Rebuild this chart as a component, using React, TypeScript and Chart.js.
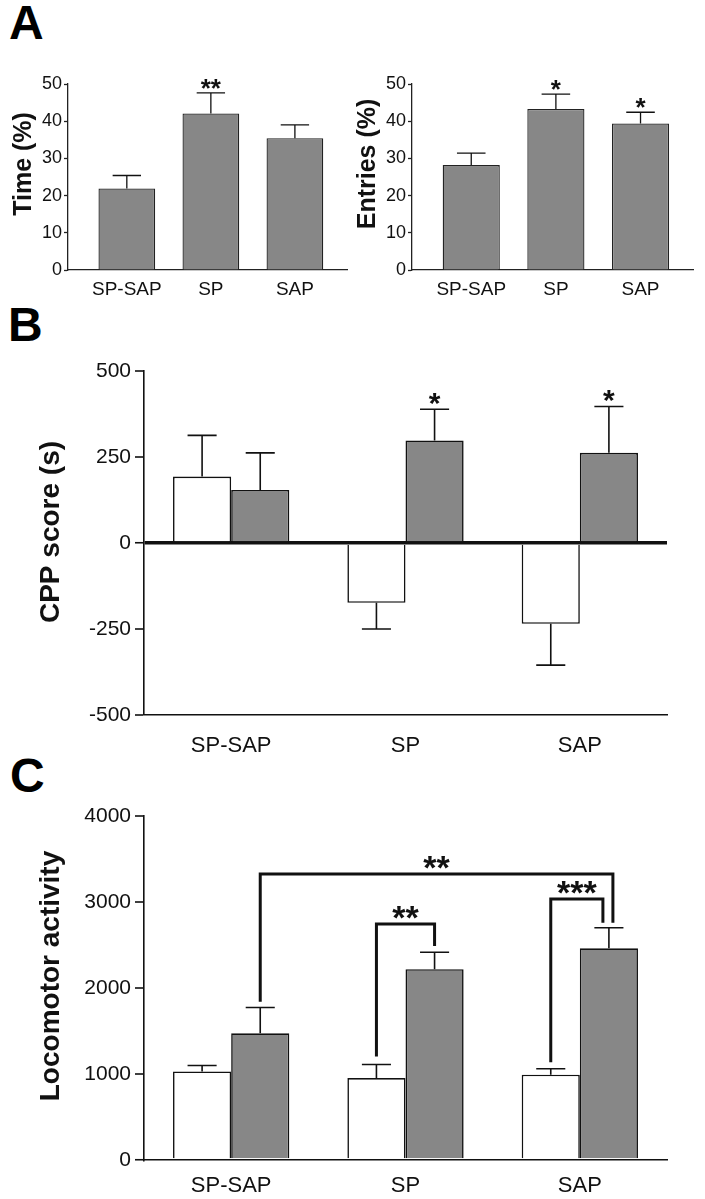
import React, { useEffect, useRef } from "react";
import { Chart, registerables } from "chart.js";

Chart.register(...registerables);

// ---------- data ----------
const groups = ["SP-SAP", "SP", "SAP"];

const timeMean = [21.9, 42.1, 35.4];
const timeErr = [25.4, 47.6, 39.0];
const timeStars = ["", "**", ""];

const entriesMean = [28.2, 43.3, 39.4];
const entriesErr = [31.4, 47.3, 42.4];
const entriesStars = ["", "*", "*"];

const cppWhite = [193, -174, -235];
const cppWhiteErr = [313, -250, -355];
const cppGray = [154, 298, 262];
const cppGrayErr = [262, 389, 397];
const cppGrayStars = ["", "*", "*"];

const locoWhite = [1030, 953, 991];
const locoWhiteErr = [1099, 1111, 1061];
const locoGray = [1473, 2218, 2461];
const locoGrayErr = [1774, 2415, 2700];

// brackets in panel C: [group, series] endpoints, level and leg ends (data units)
const bracketFrom = [[0, 1], [1, 0], [2, 0]];
const bracketTo = [[2, 1], [1, 1], [2, 1]];
const bracketLevel = [3326, 2744, 3035];
const bracketLeftEnd = [1840, 1203, 1138];
const bracketRightEnd = [2760, 2488, 2760];
const bracketLabels = ["**", "**", "***"];

// ---------- styles ----------
const FONT = "'Liberation Sans', Arial, Helvetica, sans-serif";
const GRAY = "#878787";
const INK = "#111111";
const AXIS = "#222222";

const annotPlugin = {
  id: "annot",
  afterDatasetsDraw(chart: any, _args: any, opts: any) {
    const ctx = chart.ctx;
    const ys = chart.scales.y;
    ctx.save();
    chart.data.datasets.forEach((ds: any, di: number) => {
      if (!ds.errors) return;
      const meta = chart.getDatasetMeta(di);
      meta.data.forEach((el: any, j: number) => {
        const p = el.getProps(["x", "y", "width"], true);
        const ey = ys.getPixelForValue(ds.errors[j]);
        ctx.strokeStyle = INK;
        ctx.lineWidth = opts.lineWidth;
        ctx.lineCap = "butt";
        ctx.beginPath();
        ctx.moveTo(p.x, p.y);
        ctx.lineTo(p.x, ey);
        const half = (p.width * opts.capFrac) / 2;
        ctx.moveTo(p.x - half, ey);
        ctx.lineTo(p.x + half, ey);
        ctx.stroke();
        const s = ds.stars && ds.stars[j];
        if (s) {
          const cy = ey - opts.starGap;
          ctx.font = `bold ${opts.starSize}px ${FONT}`;
          ctx.textAlign = "center";
          ctx.textBaseline = "alphabetic";
          ctx.fillStyle = INK;
          ctx.fillText(s, p.x, cy + opts.starSize * 0.58);
        }
      });
    });
    (opts.brackets || []).forEach((b: any) => {
      const a = chart.getDatasetMeta(b.from[1]).data[b.from[0]];
      const c = chart.getDatasetMeta(b.to[1]).data[b.to[0]];
      const xa = a.x + b.dxFrom;
      const xc = c.x + b.dxTo;
      const yl = ys.getPixelForValue(b.level);
      const ya = ys.getPixelForValue(b.leftEnd);
      const yc = ys.getPixelForValue(b.rightEnd);
      ctx.strokeStyle = INK;
      ctx.lineWidth = opts.bracketWidth;
      ctx.lineJoin = "miter";
      ctx.beginPath();
      ctx.moveTo(xa, ya);
      ctx.lineTo(xa, yl);
      ctx.lineTo(xc, yl);
      ctx.lineTo(xc, yc);
      ctx.stroke();
      ctx.font = `bold ${opts.bracketStarSize}px ${FONT}`;
      ctx.textAlign = "center";
      ctx.textBaseline = "alphabetic";
      ctx.fillStyle = INK;
      ctx.fillText(b.label, (xa + xc) / 2, yl - opts.bracketGap + opts.bracketStarSize * 0.58);
    });
    ctx.restore();
  },
  afterDraw(chart: any, _args: any, opts: any) {
    const t = opts.yTitle;
    if (!t) return;
    const ctx = chart.ctx;
    const area = chart.chartArea;
    ctx.save();
    ctx.translate(t.x, (area.top + area.bottom) / 2 + t.dy);
    ctx.rotate(-Math.PI / 2);
    ctx.font = `bold ${t.size}px ${FONT}`;
    ctx.textAlign = "center";
    ctx.textBaseline = "middle";
    ctx.fillStyle = INK;
    ctx.fillText(t.text, 0, 0);
    ctx.restore();
  },
};

function makeA(values: number[], errs: number[], stars: string[], title: string, yWidth: number, titleX: number, padRight: number) {
  return {
    type: "bar",
    data: {
      datasets: [
        {
          data: values.map((v, i) => ({ x: i, y: v })),
          errors: errs,
          stars,
          backgroundColor: GRAY,
          borderColor: AXIS,
          borderWidth: 1.3,
          barPercentage: 0.675,
          categoryPercentage: 1,
        },
      ],
    },
    options: {
      animation: false,
      responsive: false,
      layout: { padding: { top: 44, right: padRight, left: 0, bottom: 0 } },
      plugins: {
        legend: { display: false },
        tooltip: { enabled: false },
        annot: {
          lineWidth: 1.3,
          capFrac: 0.5,
          starGap: 11,
          starSize: 26,
          yTitle: { text: title, size: 25, x: titleX, dy: -13 },
        },
      },
      scales: {
        x: {
          type: "linear",
          offset: false,
          min: -0.7,
          max: 2.62,
          grid: { display: false, drawTicks: false, offset: false },
          border: { display: true, color: AXIS, width: 1.3 },
          afterBuildTicks: (s: any) => {
            s.ticks = groups.map((_, i) => ({ value: i }));
          },
          ticks: {
            callback: (v: any) => groups[v],
            font: { family: FONT, size: 19 },
            color: INK,
            padding: 8,
            autoSkip: false,
            maxRotation: 0,
          },
          afterFit: (s: any) => {
            s.height = 40;
          },
        },
        y: {
          min: 0,
          max: 50,
          ticks: { stepSize: 10, font: { family: FONT, size: 18 }, color: INK, padding: 2 },
          grid: { drawOnChartArea: false, tickLength: 4, tickWidth: 1.3, tickColor: AXIS },
          border: { display: true, color: AXIS, width: 1.3 },
          title: { display: false, text: title },
          afterFit: (s: any) => {
            s.width = yWidth;
          },
        },
      },
    },
  };
}

function makeBC(
  white: number[], whiteErr: number[], gray: number[], grayErr: number[], grayStars: string[],
  title: string, min: number, max: number, step: number, zeroLine: boolean, labelPad: number,
  xHeight: number, brackets: any[], titleDy: number
) {
  return {
    type: "bar",
    data: {
      labels: groups,
      datasets: [
        {
          data: white,
          errors: whiteErr,
          backgroundColor: "#ffffff",
          borderColor: INK,
          borderWidth: 1.6,
          barPercentage: 1,
          categoryPercentage: 0.667,
        },
        {
          data: gray,
          errors: grayErr,
          stars: grayStars,
          backgroundColor: GRAY,
          borderColor: INK,
          borderWidth: 1.6,
          barPercentage: 1,
          categoryPercentage: 0.667,
        },
      ],
    },
    options: {
      animation: false,
      responsive: false,
      layout: { padding: { top: 21, right: 38, left: 0, bottom: 0 } },
      plugins: {
        legend: { display: false },
        tooltip: { enabled: false },
        annot: {
          lineWidth: 1.6,
          capFrac: 0.5,
          starGap: 14,
          starSize: 30,
          brackets,
          bracketWidth: 3,
          bracketGap: 15,
          bracketStarSize: 34,
          yTitle: { text: title, size: 28, x: 51, dy: titleDy },
        },
      },
      scales: {
        x: {
          grid: { display: false, drawTicks: false },
          border: { display: true, color: INK, width: 1.6 },
          ticks: { font: { family: FONT, size: 22 }, color: INK, padding: labelPad, maxRotation: 0 },
          afterFit: (s: any) => {
            s.height = xHeight;
          },
        },
        y: {
          min,
          max,
          z: 1,
          ticks: {
            stepSize: step,
            font: { family: FONT, size: 21 },
            color: INK,
            padding: 4,
            callback: (v: any) => String(v),
          },
          grid: {
            drawOnChartArea: zeroLine,
            color: (c: any) => (c.tick && c.tick.value === 0 ? INK : "rgba(0,0,0,0)"),
            lineWidth: (c: any) => (c.tick && c.tick.value === 0 ? 3.5 : 0),
            tickLength: 9,
            tickWidth: 1.6,
            tickColor: INK,
          },
          border: { display: true, color: INK, width: 1.6 },
          title: { display: false, text: title },
          afterFit: (s: any) => {
            s.width = 144;
          },
        },
      },
    },
  };
}

const bracketDx = [[0, 4], [0, 0], [0, -6]];

export default function App() {
  const aL = useRef<HTMLCanvasElement>(null);
  const aR = useRef<HTMLCanvasElement>(null);
  const b = useRef<HTMLCanvasElement>(null);
  const c = useRef<HTMLCanvasElement>(null);

  useEffect(() => {
    const charts: Chart[] = [];
    const brackets = bracketLabels.map((label, i) => ({
      from: bracketFrom[i],
      to: bracketTo[i],
      level: bracketLevel[i],
      leftEnd: bracketLeftEnd[i],
      rightEnd: bracketRightEnd[i],
      label,
      dxFrom: bracketDx[i][0],
      dxTo: bracketDx[i][1],
    }));
    charts.push(
      new Chart(aL.current as any, { ...(makeA(timeMean, timeErr, timeStars, "Time (%)", 68, 24, 8) as any), plugins: [annotPlugin] })
    );
    charts.push(
      new Chart(aR.current as any, { ...(makeA(entriesMean, entriesErr, entriesStars, "Entries (%)", 62, 18, 12) as any), plugins: [annotPlugin] })
    );
    charts.push(
      new Chart(b.current as any, {
        ...(makeBC(cppWhite, cppWhiteErr, cppGray, cppGrayErr, cppGrayStars, "CPP score (s)", -500, 500, 250, true, 18, 45, [], -11) as any),
        plugins: [annotPlugin],
      })
    );
    charts.push(
      new Chart(c.current as any, {
        ...(makeBC(locoWhite, locoWhiteErr, locoGray, locoGrayErr, ["", "", ""], "Locomotor activity", 0, 4000, 1000, false, 13, 39, brackets, -12) as any),
        plugins: [annotPlugin],
      })
    );
    return () => charts.forEach((ch) => ch.destroy());
  }, []);

  const letter: React.CSSProperties = {
    position: "absolute",
    fontFamily: FONT,
    fontWeight: "bold",
    fontSize: 48,
    lineHeight: 1,
    color: "#000",
  };

  return (
    <div style={{ position: "absolute", left: 0, top: 0, width: 705, height: 1199, background: "#fff", overflow: "hidden" }}>
      <div style={{ ...letter, left: 9, top: -1 }}>A</div>
      <div style={{ ...letter, left: 8, top: 301 }}>B</div>
      <div style={{ ...letter, left: 10, top: 752 }}>C</div>
      <canvas ref={aL} width={355} height={270} style={{ position: "absolute", left: 0, top: 40 }} />
      <canvas ref={aR} width={355} height={270} style={{ position: "absolute", left: 350, top: 40 }} />
      <canvas ref={b} width={705} height={410} style={{ position: "absolute", left: 0, top: 350 }} />
      <canvas ref={c} width={705} height={404} style={{ position: "absolute", left: 0, top: 795 }} />
    </div>
  );
}
